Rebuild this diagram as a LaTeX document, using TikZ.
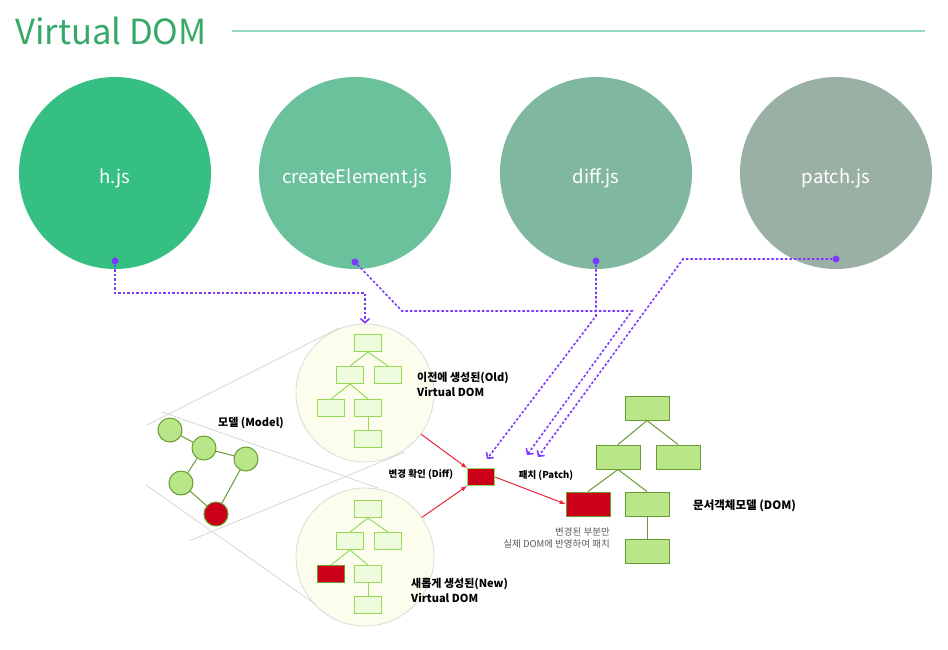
\documentclass[tikz,border=0pt]{standalone}
\usepackage{fontspec}
\setmainfont{Noto Sans CJK KR}
\usetikzlibrary{positioning,arrows.meta}

\definecolor{vdtitle}{RGB}{55,168,104}
\definecolor{vdrule}{RGB}{150,220,188}
\definecolor{vdh}{RGB}{53,191,131}
\definecolor{vdcreate}{RGB}{106,193,155}
\definecolor{vddiff}{RGB}{128,184,159}
\definecolor{vdpatch}{RGB}{155,176,165}
\definecolor{vdpurple}{RGB}{124,58,255}
\definecolor{vdred}{RGB}{204,0,24}
\definecolor{vdarrow}{RGB}{232,40,56}
\definecolor{lensgray}{RGB}{218,218,210}
\definecolor{lensfill}{RGB}{253,253,238}
\definecolor{vboxfill}{RGB}{238,251,220}
\definecolor{vboxline}{RGB}{150,218,88}
\definecolor{domfill}{RGB}{186,230,138}
\definecolor{domline}{RGB}{104,156,50}
\definecolor{ghost}{RGB}{214,214,214}
\definecolor{note}{RGB}{90,90,90}

\begin{document}
\begin{tikzpicture}[%
      x=1pt, y=-1pt,
      jsball/.style={circle, minimum size=192pt, inner sep=0pt, text=white,
        text height=21pt, text depth=0pt,
        font=\fontsize{18.5}{22}\selectfont},
      pin/.style={circle, fill=vdpurple, minimum size=7pt, inner sep=0pt},
      link/.style={color=vdpurple, line width=1.6pt, dash pattern=on 2.5pt off 2pt,
        -{Straight Barb[length=4pt,width=9pt]}},
      lens/.style={circle, draw=lensgray, fill=lensfill, line width=0.8pt,
        minimum size=138pt, inner sep=0pt},
      vbox/.style={draw=vboxline, fill=vboxfill, line width=1pt,
        minimum width=27pt, minimum height=17pt, inner sep=0pt},
      vedge/.style={color=vboxline, line width=1pt},
      mnode/.style={circle, draw=domline, fill=domfill, line width=1pt,
        minimum size=24pt, inner sep=0pt},
      dbox/.style={draw=domline, fill=domfill, line width=1pt,
        minimum width=44pt, minimum height=24pt, inner sep=0pt},
      dedge/.style={color=domline, line width=1pt},
      change/.style={color=vdarrow, line width=1pt, -latex},
      label/.style={font=\fontsize{11}{15}\bfseries\selectfont, inner sep=0pt},
      ]
      \useasboundingbox (0,0) rectangle (948,649);

      % title
      \node[anchor=west, inner sep=0pt, text=vdtitle,
        font=\fontsize{34.6}{38}\selectfont] (title) at (15,31) {Virtual DOM};
      \draw [color=vdrule, line width=1.5pt] (232,31) -- (925,31);

      % modules
      \node[jsball, fill=vdh] (hjs) at (115,173) {h.js};
      \node[jsball, fill=vdcreate] (createjs) at (355,173) {createElement.js};
      \node[jsball, fill=vddiff] (diffjs) at (596,173) {diff.js};
      \node[jsball, fill=vdpatch] (patchjs) at (836,173) {patch.js};

      \node[pin] (hpin) at (115,261) {};
      \node[pin] (cpin) at (355,262) {};
      \node[pin] (dpin) at (596,261) {};
      \node[pin] (ppin) at (836,259) {};

      % zoom lines
      \draw [color=ghost, line width=0.8pt] (147,425) -- (339,328);
      \draw [color=ghost, line width=0.8pt] (189,541) -- (405,452);
      \draw [color=ghost, line width=0.8pt] (162,412) -- (378,488);
      \draw [color=ghost, line width=0.8pt] (146,485) -- (335,618);

      % old virtual dom
      \node[lens] (oldlens) at (365,393) {};
      \node[vbox] (o1) at (368,343) {};
      \node[vbox] (o2) at (350,375) {};
      \node[vbox] (o3) at (388,375) {};
      \node[vbox] (o4) at (331,408) {};
      \node[vbox] (o5) at (368,408) {};
      \node[vbox] (o6) at (368,439) {};
      \draw[vedge] (o1.south) -- (o2.north);
      \draw[vedge] (o1.south) -- (o3.north);
      \draw[vedge] (o2.south) -- (o4.north);
      \draw[vedge] (o2.south) -- (o5.north);
      \draw[vedge] (o5) -- (o6);

      % new virtual dom
      \node[lens] (newlens) at (365,557) {};
      \node[vbox] (n1) at (368,509) {};
      \node[vbox] (n2) at (350,541) {};
      \node[vbox] (n3) at (388,541) {};
      \node[vbox, fill=vdred, draw=domline] (n4) at (331,574) {};
      \node[vbox] (n5) at (368,574) {};
      \node[vbox] (n6) at (368,605) {};
      \draw[vedge] (n1.south) -- (n2.north);
      \draw[vedge] (n1.south) -- (n3.north);
      \draw[vedge] (n2.south) -- (n4.north);
      \draw[vedge] (n2.south) -- (n5.north);
      \draw[vedge] (n5) -- (n6);

      % model
      \node[mnode] (m1) at (170,430) {};
      \node[mnode] (m2) at (204,448) {};
      \node[mnode] (m3) at (246,459) {};
      \node[mnode] (m4) at (181,483) {};
      \node[mnode, fill=vdred] (m5) at (216,514) {};
      \draw[dedge] (m1) -- (m2);
      \draw[dedge] (m2) -- (m3);
      \draw[dedge] (m2) -- (m4);
      \draw[dedge] (m4) -- (m5);
      \draw[dedge] (m3) -- (m5);

      % real dom
      \node[dbox] (d1) at (647,408) {};
      \node[dbox] (d2) at (618,457) {};
      \node[dbox] (d3) at (678,457) {};
      \node[dbox, fill=vdred] (d4) at (588,504) {};
      \node[dbox] (d5) at (647,504) {};
      \node[dbox] (d6) at (647,551) {};
      \draw[dedge] (d1.south) -- (d2.north);
      \draw[dedge] (d1.south) -- (d3.north);
      \draw[dedge] (d2.south) -- (d4.north);
      \draw[dedge] (d2.south) -- (d5.north);
      \draw[dedge] (d5) -- (d6);

      % diff result
      \node[vbox, fill=vdred] (diffbox) at (481,477) {};
      \draw[change] (oldlens) -- (diffbox.north west);
      \draw[change] (newlens) -- (diffbox.south west);
      \draw[change] (diffbox.east) -- (d4.west);

      % module links
      \coordinate (dtip) at (487,459);
      \coordinate (ctip) at (527,455);
      \coordinate (ptip) at (538,457);
      \draw[link] (hpin) -- (115,293) -| (oldlens.north);
      \draw[link] (cpin) -- (402,311) -- (632,311) -- (ctip);
      \draw[link] (dpin) -- (596,316) -- (dtip);
      \draw[link] (ppin) -- (683,259) -- (ptip);

      % labels
      \node[label, anchor=west, align=left] (oldlbl) at (417,384)
        {이전에 생성된(Old)\\Virtual DOM};
      \node[label, anchor=west, align=left] (newlbl) at (411,590)
        {새롭게 생성된(New)\\Virtual DOM};
      \node[label] (modellbl) at (251,423) {모델 (Model)};
      \node[label, font=\fontsize{9.5}{12}\bfseries\selectfont] (difflbl) at (421,474) {변경 확인 (Diff)};
      \node[label, font=\fontsize{9.5}{12}\bfseries\selectfont] (patchlbl) at (546,475) {패치 (Patch)};
      \node[label, anchor=west, font=\fontsize{11.5}{15}\bfseries\selectfont] (domlbl) at (693,506) {문서객체모델 (DOM)};
      \node[anchor=east, align=right, inner sep=0pt, text=note,
        font=\fontsize{9.5}{12.5}\selectfont] (notelbl) at (610,538)
        {변경된 부분만\\실제 DOM에 반영하여 패치};
\end{tikzpicture}
\end{document}
